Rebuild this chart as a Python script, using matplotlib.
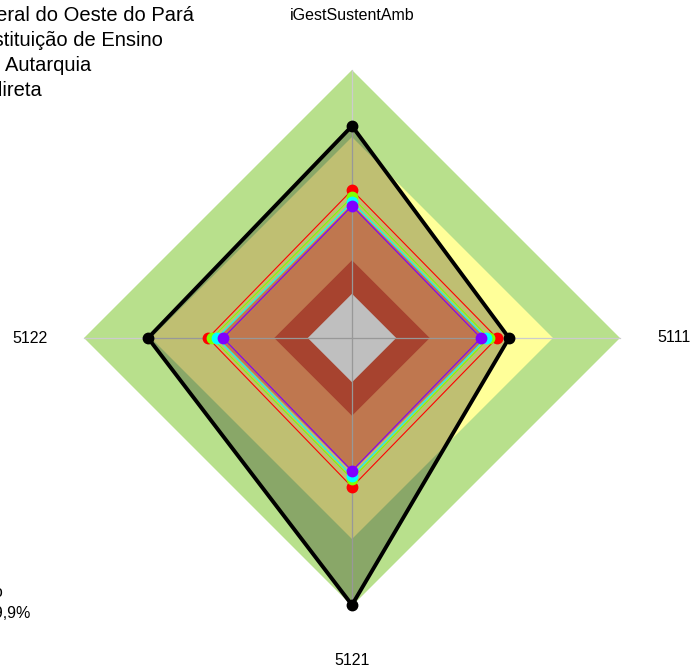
import numpy as np
import matplotlib
matplotlib.use('Agg')
import matplotlib.pyplot as plt

plt.rcParams['font.family'] = ['Liberation Sans', 'DejaVu Sans']

# radar axes, clockwise from the top
axis_labels = ['iGestSustentAmb', '5111', '5121', '5122']

# reference bands (upper limit of each band) and their colours
band_limits = [1.0, 0.75, 0.5, 0.29, 0.165]
band_colors = ['#B8E08C', '#FFFF99', '#FFA06A', '#DF5A40', '#FFFFFF']

# main series (black) and the comparison series
main_values = [0.791, 0.586, 0.996, 0.761]
series_values = [
    [0.552, 0.541, 0.556, 0.537],
    [0.526, 0.511, 0.526, 0.522],
    [0.507, 0.500, 0.515, 0.504],
    [0.493, 0.481, 0.496, 0.481],
]
series_colors = ['#FF0000', '#80FF00', '#00FFFF', '#8000FF']

info_lines = ['Universidade Federal do Oeste do Pará',
              'Tipo: Instituição de Ensino',
              'Natureza: Autarquia',
              'Administração Indireta']
summary_lines = ['Índice médio', '69,9%']

theta = np.deg2rad([0, 90, 180, 270])


def to_xy(values):
    r = np.asarray(values, dtype=float)
    return r * np.sin(theta), r * np.cos(theta)


fig = plt.figure(figsize=(6.94, 6.71), dpi=100)
ax = fig.add_axes([0, 0, 1, 1])
scale = 268.0
ax.set_xlim(-352 / scale, 342 / scale)
ax.set_ylim(-333 / scale, 338 / scale)
ax.axis('off')

# coloured bands
for lim, col in zip(band_limits, band_colors):
    x, y = to_xy([lim] * 4)
    ax.fill(x, y, color=col, lw=0, zorder=1)

# spokes
for t in theta:
    ax.plot([0, np.sin(t)], [0, np.cos(t)], color='#CCCCCC', lw=0.9, zorder=2)

# main series
x, y = to_xy(main_values)
ax.fill(x, y, color='black', alpha=0.25, lw=0, zorder=3)
ax.plot(np.append(x, x[0]), np.append(y, y[0]), color='black', lw=2.8, zorder=4)
ax.plot(x, y, 'o', color='black', ms=7.5, zorder=4)

# comparison series
for vals, col in zip(series_values, series_colors):
    x, y = to_xy(vals)
    ax.plot(np.append(x, x[0]), np.append(y, y[0]), color=col, lw=0.8, zorder=5)
    ax.plot(x, y, 'o', color=col, ms=7.5, zorder=5)

# axis labels
lab_r = 1.203
for lab, t in zip(axis_labels, theta):
    ax.text(lab_r * np.sin(t), lab_r * np.cos(t), lab, ha='center', va='center',
            fontsize=11.5, color='black')

# header text
W, H = 694.0, 671.0
ends = [194, 163, 91, 42]
for i, (line, xe) in enumerate(zip(info_lines, ends)):
    fig.text(xe / W, 1 - (21 + 25 * i) / H, line, ha='right', va='baseline',
             fontsize=14.5, color='black')

# summary text at the bottom left
fig.text(3 / W, 1 - 597 / H, summary_lines[0], ha='right', va='baseline',
         fontsize=11.5, color='black')
fig.text(31 / W, 1 - 618 / H, summary_lines[1], ha='right', va='baseline',
         fontsize=11.5, color='black')

fig.savefig('out.png', dpi=100)
